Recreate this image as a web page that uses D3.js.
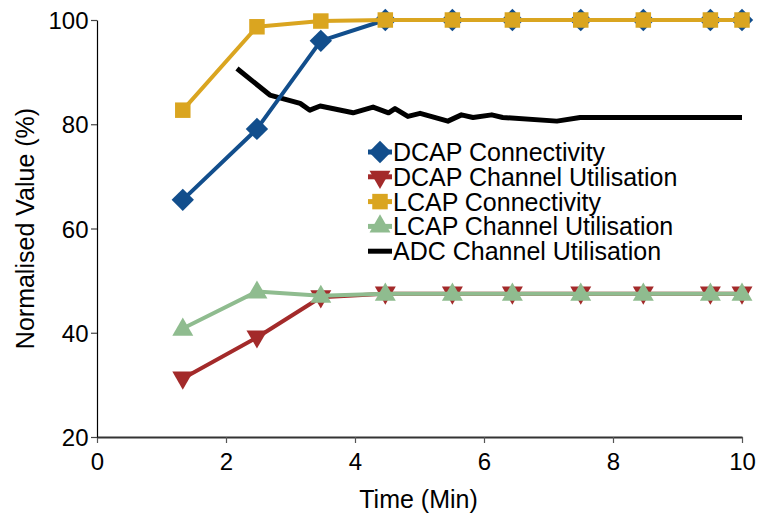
<!DOCTYPE html>
<html>
<head>
<meta charset="utf-8">
<script src="https://cdn.jsdelivr.net/npm/d3@7"></script>
<style>
  body { margin: 0; background: #fff; }
  svg text { font-family: "Liberation Sans", Arial, Helvetica, sans-serif; fill: #000; }
</style>
</head>
<body>
<div id="chart"></div>
<script>
// sampling times (min)
const times = [1.33, 2.48, 3.47, 4.47, 5.51, 6.44, 7.5, 8.47, 9.51, 10];

const dcapConn = [65.5, 79.1, 96.0, 100, 100, 100, 100, 100, 100, 100];
const dcapChan = [31.2, 39.1, 46.8, 47.5, 47.5, 47.5, 47.5, 47.5, 47.5, 47.5];
const lcapConn = [82.7, 98.7, 99.8, 100, 100, 100, 100, 100, 100, 100];
const lcapChan = [40.8, 47.9, 47.1, 47.5, 47.5, 47.5, 47.5, 47.5, 47.5, 47.5];

// ADC is logged on its own, finer time base
const adcTimes = [2.17, 2.68, 3.15, 3.3, 3.46, 3.97, 4.28, 4.52, 4.62, 4.82, 5.01, 5.44, 5.65, 5.83, 6.12, 6.29, 7.13, 7.49, 10];
const adcChan  = [90.7, 85.6, 84.0, 82.7, 83.5, 82.2, 83.3, 82.2, 83.0, 81.5, 82.1, 80.6, 81.8, 81.3, 81.8, 81.3, 80.6, 81.3, 81.3];

const xTicks = [0, 2, 4, 6, 8, 10];
const yTicks = [20, 40, 60, 80, 100];

const series = [
  { name: 'DCAP Connectivity', x: times, y: dcapConn, color: '#124e8c', shape: 'diamond' },
  { name: 'DCAP Channel Utilisation', x: times, y: dcapChan, color: '#a32a2a', shape: 'down' },
  { name: 'LCAP Connectivity', x: times, y: lcapConn, color: '#daa520', shape: 'square' },
  { name: 'LCAP Channel Utilisation', x: times, y: lcapChan, color: '#8fbc8f', shape: 'up' },
  { name: 'ADC Channel Utilisation', x: adcTimes, y: adcChan, color: '#000', shape: null }
];

const W = 758, H = 514;
const margin = { top: 20, right: 16, bottom: 77, left: 97 };
const w = W - margin.left - margin.right,
  h = H - margin.top - margin.bottom;

const svg = d3.select('#chart')
  .append('svg')
  .attr('width', W)
  .attr('height', H);

const g = svg.append('g')
  .attr('transform', `translate(${margin.left},${margin.top})`);

const xScale = d3.scaleLinear().domain([0, 10]).range([0, w]);
const yScale = d3.scaleLinear().domain([20, 100]).range([h, 0]);

// axes
const xAxis = g.append('g')
  .attr('transform', `translate(0,${h})`)
  .call(d3.axisBottom(xScale).tickValues(xTicks).tickSize(6).tickSizeOuter(0));
xAxis.select('.domain').attr('stroke', '#333').attr('stroke-width', 2);
xAxis.selectAll('.tick line').attr('stroke', '#555').attr('stroke-width', 1.2);
xAxis.selectAll('.tick text').attr('font-size', 24).attr('dy', '0.98em');

const yAxis = g.append('g')
  .call(d3.axisLeft(yScale).tickValues(yTicks).tickSize(6).tickSizeOuter(0));
yAxis.select('.domain').attr('stroke', '#000').attr('stroke-width', 1.2);
yAxis.selectAll('.tick line').attr('stroke', '#444').attr('stroke-width', 1.2);
yAxis.selectAll('.tick text').attr('font-size', 24).attr('dx', '0.02em').attr('dy', '0.36em');

// axis titles
svg.append('text')
  .attr('x', margin.left + w / 2 - 1)
  .attr('y', 508)
  .attr('text-anchor', 'middle')
  .attr('font-size', 25)
  .text('Time (Min)');

svg.append('text')
  .attr('transform', `translate(34,${margin.top + h / 2}) rotate(-90)`)
  .attr('text-anchor', 'middle')
  .attr('font-size', 25)
  .text('Normalised Value (%)');

function markerPath(shape) {
  if (shape === 'diamond') return d3.symbol().type(d3.symbolSquare).size(250)();
  if (shape === 'square') return d3.symbol().type(d3.symbolSquare).size(240)();
  return d3.symbol().type(d3.symbolTriangle).size(190)();
}
function markerRotate(shape) {
  if (shape === 'diamond') return 45;
  if (shape === 'down') return 180;
  return 0;
}

const line = d3.line()
  .x(d => xScale(d[0]))
  .y(d => yScale(d[1]));

// ADC first so the coloured series sit on top of it
const order = [4, 0, 1, 2, 3];
order.forEach(i => {
  const s = series[i];
  const pts = s.x.map((t, j) => [t, s.y[j]]);
  const sg = g.append('g');
  sg.append('path')
    .datum(pts)
    .attr('fill', 'none')
    .attr('stroke', s.color)
    .attr('stroke-width', s.shape ? 4 : 5)
    .attr('stroke-linejoin', 'round')
    .attr('d', line);
  if (s.shape) {
    sg.selectAll('path.mk')
      .data(pts)
      .enter()
      .append('path')
      .attr('class', 'mk')
      .attr('d', markerPath(s.shape))
      .attr('fill', s.color)
      .attr('transform', d => `translate(${xScale(d[0])},${yScale(d[1]) + (s.shape === 'down' ? -1 : s.shape === 'up' ? 1 : 0)}) rotate(${markerRotate(s.shape)})`);
  }
});

// legend
const legend = svg.append('g')
  .attr('transform', 'translate(368,152)');

const item = legend.selectAll('g')
  .data(series)
  .enter()
  .append('g')
  .attr('transform', (_, i) => `translate(0,${i * 24.8})`);

item.append('line')
  .attr('x1', 0)
  .attr('x2', 24)
  .attr('stroke', d => d.color)
  .attr('stroke-width', 5);

item.filter(d => d.shape)
  .append('path')
  .attr('d', d => markerPath(d.shape))
  .attr('fill', d => d.color)
  .attr('transform', d => `translate(12,0) rotate(${markerRotate(d.shape)})`);

item.append('text')
  .attr('x', 25)
  .attr('dy', '0.36em')
  .attr('font-size', 25)
  .text(d => d.name);
</script>
</body>
</html>
